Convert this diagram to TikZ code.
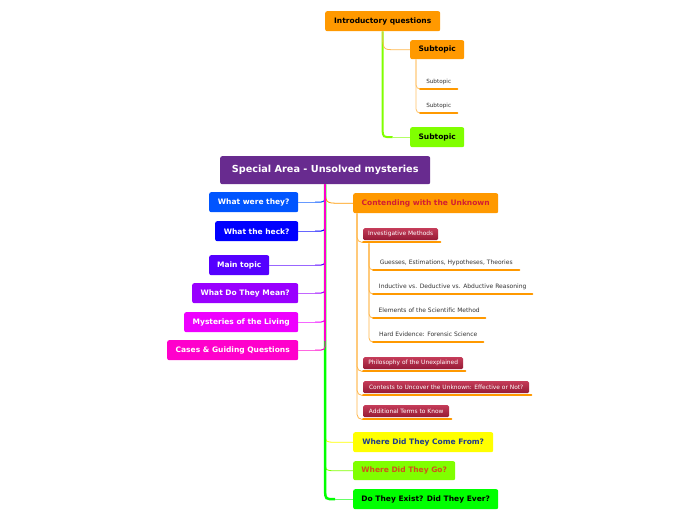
\documentclass[tikz,border=0pt]{standalone}
\usepackage{fontspec}
\setmainfont{DejaVu Sans}
\usetikzlibrary{calc}
\definecolor{orng}{HTML}{FF9900}
\definecolor{purp}{HTML}{682B8F}
\definecolor{ca}{HTML}{0055FF}
\definecolor{cb}{HTML}{0000FF}
\definecolor{cc}{HTML}{5500FF}
\definecolor{cd}{HTML}{9900FF}
\definecolor{ce}{HTML}{EE00FF}
\definecolor{cf}{HTML}{FF00CC}
\definecolor{yel}{HTML}{FFFF00}
\definecolor{lgrn}{HTML}{80FF00}
\definecolor{grn}{HTML}{00FF00}
\definecolor{crimL}{HTML}{C43B58}
\definecolor{crimD}{HTML}{951A35}
\definecolor{redtxt}{HTML}{D21E32}
\definecolor{bluetxt}{HTML}{1E3C8C}
\definecolor{brtxt}{HTML}{D2501E}
\begin{document}
\begin{tikzpicture}[x=1pt,y=-1pt,
  topic/.style={anchor=north west, rounded corners=2pt, inner sep=0pt, minimum height=20pt,
    font=\fontsize{7.5}{8}\selectfont\bfseries},
  crim/.style={anchor=north west, rounded corners=1.5pt, inner sep=0pt, minimum height=12pt,
    top color=crimL, bottom color=crimD, text=white, font=\fontsize{5.9}{6}\selectfont},
  leaf/.style={anchor=south west, inner sep=0pt, minimum height=14.5pt,
    text=black!80, font=\fontsize{6}{6}\selectfont},
  uline/.style={orng, line width=2pt, line cap=round},
  thinl/.style={line width=0.8pt},
  spine/.style={line width=2.5pt},
]
\useasboundingbox[fill=white] (0,0) rectangle (696,520);

% nodes
\node[topic, fill=orng, minimum width=115pt] (intro) at (325,11) {Introductory questions};
\node[topic, fill=orng, minimum width=54pt, minimum height=19pt] (sub1) at (410,40) {Subtopic};
\node[leaf, minimum width=37pt, font=\fontsize{5.7}{6}\selectfont] (s1) at (420,89) {Subtopic};
\node[leaf, minimum width=37pt, font=\fontsize{5.7}{6}\selectfont] (s2) at (420,113) {Subtopic};
\node[topic, fill=lgrn, minimum width=54pt] (sub2) at (410,127) {Subtopic};

\node[topic, fill=purp, text=white, minimum width=210pt, minimum height=28pt,
  font=\fontsize{9.7}{10}\selectfont\bfseries] (root) at (220,156) {Special Area - Unsolved mysteries};

\node[topic, fill=ca, text=white, minimum width=89pt] (w1) at (209,192) {What were they?};
\node[topic, fill=cb, text=white, minimum width=83pt] (w2) at (215,221) {What the heck?};
\node[topic, fill=cc, text=white, minimum width=60pt] (w3) at (209,255) {Main topic};
\node[topic, fill=cd, text=white, minimum width=106pt] (w4) at (192,283) {What Do They Mean?};
\node[topic, fill=ce, text=white, minimum width=114pt] (w5) at (184,312) {Mysteries of the Living};
\node[topic, fill=cf, text=white, minimum width=131pt] (w6) at (167,340) {Cases \& Guiding Questions};

\node[topic, fill=orng, text=redtxt, minimum width=145pt] (ctd) at (353,193) {Contending with the Unknown};
\node[crim, minimum width=75pt] (inv) at (363,228) {Investigative Methods};
\node[leaf, minimum width=146pt] (l1) at (373,270) {Guesses, Estimations, Hypotheses, Theories};
\node[leaf, minimum width=159pt] (l2) at (373,294) {Inductive vs. Deductive vs. Abductive Reasoning};
\node[leaf, minimum width=112pt] (l3) at (373,318) {Elements of the Scientific Method};
\node[leaf, minimum width=110pt] (l4) at (373,342) {Hard Evidence: Forensic Science};
\node[crim, minimum width=100pt] (phil) at (363,357) {Philosophy of the Unexplained};
\node[crim, minimum width=166pt] (cont) at (363,381) {Contests to Uncover the Unknown: Effective or Not?};
\node[crim, minimum width=86pt] (add) at (363,405) {Additional Terms to Know};

\node[topic, fill=yel, text=bluetxt, minimum width=140pt] (r1) at (353,432) {Where Did They Come From?};
\node[topic, fill=lgrn, text=brtxt, minimum width=102pt, minimum height=19pt] (r2) at (353,461) {Where Did They Go?};
\node[topic, fill=grn, text=black, minimum width=145pt] (r3) at (353,489) {Do They Exist? Did They Ever?};

% top connectors
\draw[lgrn, line width=2pt] (intro.south) -- ($(intro.south |- sub2.west)+(0,-8)$)
  .. controls ($(intro.south |- sub2.west)$) .. ($(intro.south |- sub2.west)+(10,0)$);
\draw[lgrn!60, thinl] ($(intro.south |- sub2.west)+(10,0)$) -- (sub2.west);
\draw[orng!70, thinl] (intro.south) .. controls ($(intro.south |- sub1.west)$) .. ($(intro.south |- sub1.west)+(12,0)$) -- (sub1.west);
\draw[orng!60, thinl, rounded corners=4pt] ($(sub1.south west)+(6,0)$) |- (s1.south west);
\draw[orng!60, thinl, rounded corners=4pt] ($(sub1.south west)+(6,0)$) |- (s2.south west);
\draw[uline] (s1.south west) -- (s1.south east);
\draw[uline] (s2.south west) -- (s2.south east);

% right connectors of root
\draw[yel, thinl] ($(root.south |- r1.west)+(0,-10)$) .. controls ($(root.south |- r1.west)$) .. ($(root.south |- r1.west)+(10,0)$) -- (r1.west);
\draw[lgrn, thinl] ($(root.south |- r2.west)+(0,-10)$) .. controls ($(root.south |- r2.west)$) .. ($(root.south |- r2.west)+(10,0)$) -- (r2.west);
\draw[grn, spine] (root.south) -- ($(root.south |- r3.west)+(0,-9)$)
  .. controls ($(root.south |- r3.west)$) .. ($(root.south |- r3.west)+(10,0)$);
\draw[grn!60, thinl] ($(root.south |- r3.west)+(10,0)$) -- (r3.west);
\draw[orng, thinl] (root.south) .. controls ($(root.south |- ctd.west)$) .. ($(root.south |- ctd.west)+(14,0)$) -- (ctd.west);

% left connectors of root
\foreach \n/\c in {w1/ca, w2/cb, w3/cc, w4/cd, w5/ce, w6/cf}{
  \draw[\c, spine] (root.south) -- ($(root.south |- \n.east)+(0,-9)$);
  \draw[\c, line width=1pt] ($(root.south |- \n.east)+(0,-9)$) .. controls ($(root.south |- \n.east)$) .. ($(root.south |- \n.east)+(-10,0)$);
  \draw[\c!60, thinl] ($(root.south |- \n.east)+(-10,0)$) -- (\n.east);
}

% Contending children
\foreach \n in {inv, phil, cont, add}{
  \draw[orng!70, thinl, rounded corners=5pt] ($(ctd.south west)+(4,0)$) |- ($(\n.south west)+(0,2)$);
}
\foreach \n in {l1, l2, l3, l4}{
  \draw[orng!70, thinl, rounded corners=4pt] ($(inv.south west)+(6,3)$) |- (\n.south west);
  \draw[uline] (\n.south west) -- (\n.south east);
}
\foreach \n in {inv, phil, cont, add}{
  \draw[uline] ($(\n.south west)+(0,2)$) -- ($(\n.south east)+(2,2)$);
}
\end{tikzpicture}
\end{document}
